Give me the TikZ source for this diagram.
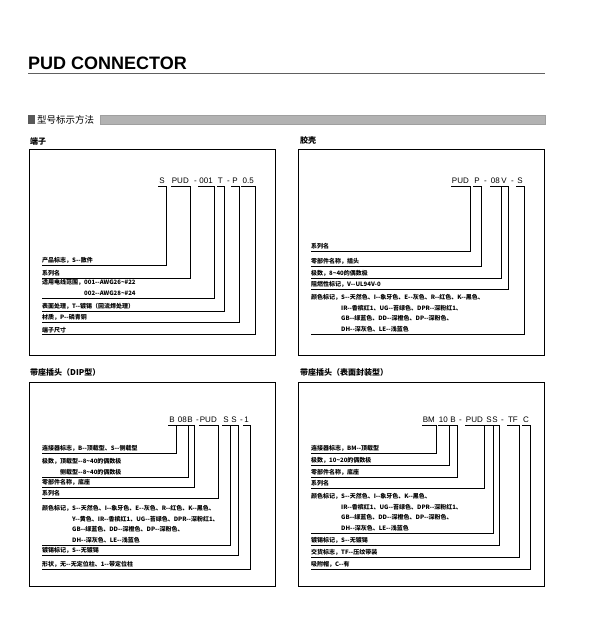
\documentclass[tikz,border=0pt]{standalone}
\usepackage{fontspec}
\setmainfont{Liberation Sans}
\newfontfamily\cjk{Noto Sans CJK SC}
\usetikzlibrary{positioning}
\newcommand\twodash{-{}-}
\newcommand\tld{\textasciitilde{}}
\tikzset{
  panel/.style   = {draw, line width=0.8pt, inner sep=0pt, anchor=north west},
  code/.style    = {font=\fontsize{8}{9}\selectfont, inner xsep=1pt, inner ysep=3pt,
                    text depth=0pt, anchor=base east},
  sepmark/.style = {font=\fontsize{8}{9}\selectfont, inner sep=0pt, anchor=base},
  lbl/.style     = {font=\cjk\bfseries\fontsize{6}{10.7}\selectfont, inner xsep=0pt, inner ysep=1.2pt,
                    anchor=south west, align=left},
  lead/.style    = {line width=0.75pt},
  heading/.style = {font=\cjk\bfseries\fontsize{8}{9}\selectfont, inner sep=0pt},
}

\begin{document}
\begin{tikzpicture}[x=1pt, y=-1pt]
  \useasboundingbox (0,0) rectangle (595,631);

  % title and section bar
  \node[anchor=base west, inner sep=0pt, font=\fontsize{18}{20}\selectfont\bfseries] (title) at (28,70) {PUD CONNECTOR};
  \draw[line width=1.6pt, gray!75!black] (28,73.5) -- (545,73.5);
  \fill[gray!70!black] (28,115) rectangle (35,124);
  \node[anchor=west, inner sep=0pt, font=\cjk\fontsize{9.5}{10}\selectfont] (section) at (37,119.5) {型号标示方法};
  \fill[gray!60] (100,115) rectangle (545,124);
  \draw[gray!75, line width=0.4pt] (100,115) rectangle (545,124);

  % ---- 端子 ----
  \node[panel, minimum width=246pt, minimum height=206pt] (boxA) at (29,149) {};
  \node[heading, above right=4pt and 1pt of boxA.north west] (headA) {端子};
  \node[code] (aS)    at (166,183) {S};
  \node[code] (aPUD)  at (190,183) {PUD};
  \node[sepmark] (aD1) at (195.5,183) {-};
  \node[code] (aWire) at (214,183) {001};
  \node[code] (aT)    at (224,183) {T};
  \node[sepmark] (aD2) at (228.5,183) {-};
  \node[code] (aMat)  at (239,183) {P};
  \node[code] (aSize) at (255,183) {0.5};

  \node[lbl] (laMark)   at (42,265) {产品标志，S\twodash 散件};
  \node[lbl] (laSeries) at (42,278) {系列名};
  \node[lbl] (laWire)   at (42,298) {适用电线范围，001\twodash AWG26\tld\#22\\\phantom{适用电线范围，}002\twodash AWG28\tld\#24};
  \node[lbl] (laPlate)  at (42,311) {表面处理，T\twodash 镀锡（回流焊处理）};
  \node[lbl] (laMat)    at (42,322) {材质，P\twodash 磷青铜};
  \node[lbl] (laSize)   at (42,334) {端子尺寸};

  \foreach \l/\c in {laMark/aS, laSeries/aPUD, laWire/aWire, laPlate/aT, laMat/aMat, laSize/aSize}
    \draw[lead] (\l.south west) -| (\c.south east) -- (\c.south west);

  % ---- 胶壳 ----
  \node[panel, minimum width=246pt, minimum height=206pt] (boxB) at (298,149) {};
  \node[heading, above right=4pt and 2pt of boxB.north west] (headB) {胶壳};
  \node[code] (bPUD)   at (470,183) {PUD};
  \node[code] (bPart)  at (481,183) {P};
  \node[sepmark] (bD1) at (485.5,183) {-};
  \node[code] (bPoles) at (501,183) {08};
  \node[code] (bFlame) at (508,183) {V};
  \node[sepmark] (bD2) at (512.5,183) {-};
  \node[code] (bColor) at (524,183) {S};

  \node[lbl] (lbSeries) at (311,251) {系列名};
  \node[lbl] (lbPart)   at (311,266) {零部件名称，插头};
  \node[lbl] (lbPoles)  at (311,278) {极数，8\tld 40的偶数极};
  \node[lbl] (lbFlame)  at (311,289) {阻燃性标记，V\twodash UL94V-0};
  \node[lbl] (lbColor)  at (311,334) {颜色标记，S\twodash 天然色、I\twodash 象牙色、E\twodash 灰色、R\twodash 红色、K\twodash 黑色、\\
    \phantom{颜色标记，}IR\twodash 香槟红1、UG\twodash 苔绿色、DPR\twodash 深粉红1、\\
    \phantom{颜色标记，}GB\twodash 绿蓝色、DD\twodash 深橙色、DP\twodash 深粉色、\\
    \phantom{颜色标记，}DH\twodash 深灰色、LE\twodash 浅蓝色};

  \foreach \l/\c in {lbSeries/bPUD, lbPart/bPart, lbPoles/bPoles, lbFlame/bFlame, lbColor/bColor}
    \draw[lead] (\l.south west) -| (\c.south east) -- (\c.south west);

  % ---- 带座插头（DIP型） ----
  \node[panel, minimum width=246pt, minimum height=204pt] (boxC) at (29,382) {};
  \node[heading, above right=5pt and 1pt of boxC.north west] (headC) {带座插头（DIP型）};
  \node[code] (cType)   at (176,422) {B};
  \node[code] (cPoles)  at (188,422) {08};
  \node[code] (cPart)   at (194,422) {B};
  \node[sepmark] (cD1)  at (197.5,422) {-};
  \node[code] (cSeries) at (218,422) {PUD};
  \node[code] (cColor)  at (230,422) {S};
  \node[code] (cPlate)  at (238,422) {S};
  \node[sepmark] (cD2)  at (241.5,422) {-};
  \node[code] (cShape)  at (250,422) {1};

  \node[lbl] (lcType)   at (42,453) {连接器标志，B\twodash 顶载型、S\twodash 侧载型};
  \node[lbl] (lcPoles)  at (42,477) {极数，顶载型\twodash 8\tld 40的偶数极\\\phantom{极数，}侧载型\twodash 8\tld 40的偶数极};
  \node[lbl] (lcPart)   at (42,487) {零部件名称，底座};
  \node[lbl] (lcSeries) at (42,498) {系列名};
  \node[lbl] (lcColor)  at (42,545) {颜色标记，S\twodash 天然色、I\twodash 象牙色、E\twodash 灰色、R\twodash 红色、K\twodash 黑色、\\
    \phantom{颜色标记，}Y\twodash 黄色、IR\twodash 香槟红1、UG\twodash 苔绿色、DPR\twodash 深粉红1、\\
    \phantom{颜色标记，}GB\twodash 绿蓝色、DD\twodash 深橙色、DP\twodash 深粉色、\\
    \phantom{颜色标记，}DH\twodash 深灰色、LE\twodash 浅蓝色};
  \node[lbl] (lcPlate)  at (42,555) {镀锡标记，S\twodash 无镀锡};
  \node[lbl] (lcShape)  at (42,569) {形状，无\twodash 无定位柱、1\twodash 带定位柱};

  \foreach \l/\c in {lcType/cType, lcPoles/cPoles, lcPart/cPart, lcSeries/cSeries,
                     lcColor/cColor, lcPlate/cPlate, lcShape/cShape}
    \draw[lead] (\l.south west) -| (\c.south east) -- (\c.south west);

  % ---- 带座插头（表面封装型） ----
  \node[panel, minimum width=246pt, minimum height=204pt] (boxD) at (298,382) {};
  \node[heading, above right=5pt and 2pt of boxD.north west] (headD) {带座插头（表面封装型）};
  \node[code] (dType)   at (436,422) {BM};
  \node[code] (dPoles)  at (449,422) {10};
  \node[code] (dPart)   at (457,422) {B};
  \node[sepmark] (dD1)  at (460.5,422) {-};
  \node[code] (dSeries) at (484,422) {PUD};
  \node[code] (dColor)  at (493,422) {S};
  \node[code] (dPlate)  at (499,422) {S};
  \node[sepmark] (dD2)  at (502.5,422) {-};
  \node[code] (dPack)   at (519,422) {TF};
  \node[code] (dCap)    at (530,422) {C};

  \node[lbl] (ldType)   at (311,453) {连接器标志，BM\twodash 顶载型};
  \node[lbl] (ldPoles)  at (311,465) {极数，10\tld 20的偶数极};
  \node[lbl] (ldPart)   at (311,477) {零部件名称，底座};
  \node[lbl] (ldSeries) at (311,488) {系列名};
  \node[lbl] (ldColor)  at (311,533) {颜色标记，S\twodash 天然色、I\twodash 象牙色、K\twodash 黑色、\\
    \phantom{颜色标记，}IR\twodash 香槟红1、UG\twodash 苔绿色、DPR\twodash 深粉红1、\\
    \phantom{颜色标记，}GB\twodash 绿蓝色、DD\twodash 深橙色、DP\twodash 深粉色、\\
    \phantom{颜色标记，}DH\twodash 深灰色、LE\twodash 浅蓝色};
  \node[lbl] (ldPlate)  at (311,545) {镀锡标记，S\twodash 无镀锡};
  \node[lbl] (ldPack)   at (311,557) {交货标志，TF\twodash 压纹带装};
  \node[lbl] (ldCap)    at (311,569) {吸附帽，C\twodash 有};

  \foreach \l/\c in {ldType/dType, ldPoles/dPoles, ldPart/dPart, ldSeries/dSeries,
                     ldColor/dColor, ldPlate/dPlate, ldPack/dPack, ldCap/dCap}
    \draw[lead] (\l.south west) -| (\c.south east) -- (\c.south west);
\end{tikzpicture}
\end{document}
